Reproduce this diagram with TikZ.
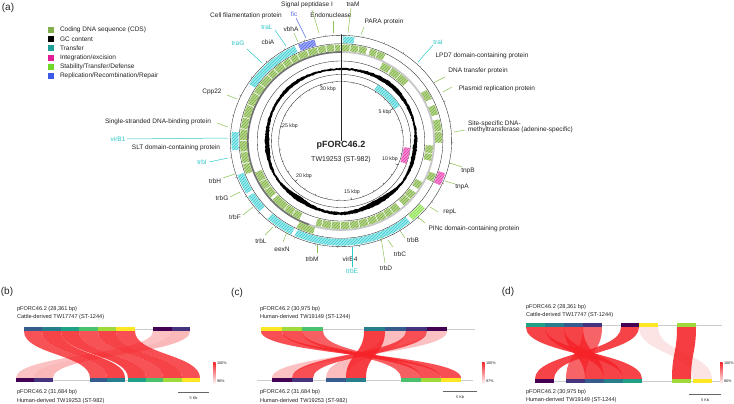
\documentclass[tikz,border=0pt]{standalone}
\usepackage{fontspec}
\setmainfont{Liberation Sans}
\usetikzlibrary{patterns}
\definecolor{txt}{RGB}{35,35,35}
\definecolor{cdsF}{RGB}{182,214,140}
\definecolor{cdsD}{RGB}{125,175,70}
\definecolor{cdsL}{RGB}{130,175,75}
\definecolor{trF}{RGB}{155,234,236}
\definecolor{trD}{RGB}{60,205,210}
\definecolor{trL}{RGB}{30,160,150}
\definecolor{trT}{RGB}{45,200,200}
\definecolor{pkF}{RGB}{245,140,210}
\definecolor{pkD}{RGB}{230,60,170}
\definecolor{magL}{RGB}{225,30,150}
\definecolor{stF}{RGB}{190,242,145}
\definecolor{stD}{RGB}{130,220,80}
\definecolor{stL}{RGB}{110,215,40}
\definecolor{blF}{RGB}{155,165,245}
\definecolor{blD}{RGB}{90,110,235}
\definecolor{blL}{RGB}{60,90,230}
\definecolor{blT}{RGB}{90,110,230}
\definecolor{leadG}{RGB}{140,195,85}
\definecolor{ribc}{RGB}{245,35,40}
\definecolor{vA}{HTML}{440154}
\definecolor{vB}{HTML}{46337E}
\definecolor{vC}{HTML}{365C8D}
\definecolor{vD}{HTML}{277F8E}
\definecolor{vE}{HTML}{1FA187}
\definecolor{vF}{HTML}{4AC16D}
\definecolor{vG}{HTML}{9FDA3A}
\definecolor{vH}{HTML}{FDE725}
\newcommand{\myfs}[1]{\fontsize{#1}{#1}\selectfont}
\newcommand{\arcseg}[5]{\path[#5] ({#1-90}:#4) arc[start angle={#1-90}, end angle={#2-90}, radius=#4] -- ({#2-90}:#3) arc[start angle={#2-90}, end angle={#1-90}, radius=#3] -- cycle;}
\newcommand{\rib}[5]{\fill[ribc, fill opacity=#5] (#1,\yt) .. controls (#1,\ym) and (#3,\ym) .. (#3,\yb) -- (#4,\yb) .. controls (#4,\ym) and (#2,\ym) .. (#2,\yt) -- cycle;}
\newcommand{\gb}[4]{\fill[#4] (#1,#3) rectangle (#2,#3+4.2);}
\tikzset{
  cds/.style={fill=cdsF, postaction={pattern=north east lines, pattern color=cdsD}},
  trn/.style={fill=trF, postaction={pattern=north east lines, pattern color=trD}},
  pnk/.style={fill=pkF, postaction={pattern=north east lines, pattern color=pkD}},
  stb/.style={fill=stF, postaction={pattern=north east lines, pattern color=stD}},
  blu/.style={fill=blF, postaction={pattern=north east lines, pattern color=blD}},
  lbl/.style={font=\myfs{6.5}, text=txt},
  lblc/.style={font=\myfs{6.5}, text=trT},
  leadg/.style={draw=leadG, line width=0.5pt},
  leadc/.style={draw=trT, line width=0.5pt},
  leadb/.style={draw=blT, line width=0.5pt},
  small/.style={font=\myfs{5.6}, text=txt},
  tiny/.style={font=\myfs{3.8}, text=txt},
  kbp/.style={font=\myfs{5.2}, text=txt},
  ring/.style={draw=black!85, line width=0.35pt}
}
\begin{document}
\begin{tikzpicture}[x=1pt,y=-1pt, every node/.style={inner sep=0pt, outer sep=0pt}]
\useasboundingbox (0,0) rectangle (734,404);
\fill[white] (0,0) rectangle (734,404);
\pgfmathsetseed{4711}

% panel labels
\node[font=\myfs{10}, text=txt] (pa) at (8,8) {(a)};
\node[font=\myfs{10}, text=txt] (pb) at (7,292) {(b)};
\node[font=\myfs{10}, text=txt] (pc) at (237,293) {(c)};
\node[font=\myfs{10}, text=txt] (pd) at (508,292) {(d)};

% legend
\foreach \i/\c/\t in {0/cdsL/{Coding DNA sequence (CDS)}, 1/black/{GC content}, 2/trL/{Transfer}, 3/magL/{Integration/excision}, 4/stL/{Stability/Transfer/Defense}, 5/blL/{Replication/Recombination/Repair}}{
  \fill[\c] (48,{30+9.2*\i-3}) rectangle (54,{30+9.2*\i+3});
  \node[lbl, anchor=west] (leg\i) at (60,{30+9.2*\i}) {\t};
}

% ================= circular map =================
\begin{scope}[shift={(341,141)}, x={(1.047pt,0pt)}, y={(0pt,-1pt)}]
  % GC content
  \fill[black, even odd rule]
     plot[domain=0:360, samples=320] ({\x-90}:{72.3+0.9*rnd+2.6*pow(max(0,cos(\x-40)),12)+1.6*pow(max(0,cos(\x-320)),20)+1.2*pow(max(0,cos(\x-180)),40)}) -- cycle
     plot[domain=0:360, samples=320] ({\x-90}:{71.6-0.9*rnd-3.6*pow(max(0,cos(\x-150)),20)-3.2*pow(max(0,cos(\x-215)),30)-2.6*pow(max(0,cos(\x-268)),20)-2.4*pow(max(0,cos(\x-100)),30)}) -- cycle;
  % rings
  \foreach \r in {59.5,66.5,80,97.3,105.7}{
    \draw[ring] (-90:\r) arc[start angle=-90, end angle=270, radius=\r];
  }
  % inner category ring
  \arcseg{32}{58}{60.3}{66.3}{trn}
  \arcseg{96}{110}{60.3}{66.3}{pnk}
  % backbone
  \draw[black!22, line width=1.8pt] (-90:89) arc[start angle=-90, end angle=110, radius=89];
  \draw[black!55, line width=1.8pt] (110:89) arc[start angle=110, end angle=270, radius=89];
  % CDS forward
  \foreach \a/\b in {250/256, 256.6/263, 263.6/270, 270.6/277, 277.6/284, 284.6/292, 292.6/300, 300.6/306, 306.6/313, 313.6/318, 318.6/324, 324.6/329, 329.6/334, 334.6/340, 340.6/346, 346.6/351, 351.6/356, 356.6/359.6, 0.4/5, 5.6/10, 10.6/15, 17/21, 21.6/26, 58/64, 68/74, 77/84, 84.6/91, 110/115, 196/206}{
    \arcseg{\a}{\b}{90}{96.5}{cds}
  }
  % CDS reverse
  \foreach \a/\b in {27/33, 34/40, 40.6/47, 93/98, 98.6/103, 118/123, 126/131, 131.6/137, 140/145, 145.6/150, 150.6/156, 156.6/162, 162.6/168, 168.6/174, 174.6/180, 180.6/186, 186.6/192, 192.6/196, 207/212, 212.6/218, 218.6/228, 230/236, 236.6/242, 242.6/249}{
    \arcseg{\a}{\b}{81}{88}{cds}
  }
  % category ring
  \foreach \a/\b in {1/7, 141/205, 207/222, 228/238, 240/251, 265/275, 303/335}{
    \arcseg{\a}{\b}{98}{104.6}{trn}
  }
  \arcseg{337}{346}{98}{104.6}{blu}
  \arcseg{108}{115}{98}{104.6}{pnk}
  \arcseg{130}{139}{98}{104.6}{stb}
  % ticks
  \foreach \k in {0,...,31}{
    \draw[black!70, line width=0.3pt] ({\k*11.362-90}:105.7) -- ({\k*11.362-90}:107.3);
    \draw[black!80, line width=0.3pt] ({\k*11.362-90}:59.5) -- ({\k*11.362-90}:58.2);
  }
  \foreach \k in {5,10,...,30}{
    \draw[black!80, line width=0.35pt] ({\k*11.362-90}:59.5) -- ({\k*11.362-90}:56.8);
  }
  % zero line
  \draw[black!85, line width=0.25pt] (0,0) -- (-90:105.7);
\end{scope}

% kbp labels
\node[kbp] (k30) at (328,89) {30 kbp};
\node[kbp] (k5) at (385,112.3) {5 kbp};
\node[kbp] (k25) at (290,125.7) {25 kbp};
\node[kbp] (k10) at (390,159) {10 kbp};
\node[kbp] (k20) at (304,176) {20 kbp};
\node[kbp] (k15) at (352,192) {15 kbp};

% centre title
\node[font=\myfs{9}\bfseries, text=txt] (title) at (341,145.7) {pFORC46.2};
\node[font=\myfs{7}, text=txt] (subt) at (341,159.7) {TW19253 (ST-982)};

% map labels
\node[lbl] (Lsig) at (307,4.5) {Signal peptidase I};
\node[lbl] (LtraM) at (353,4.5) {traM};
\node[lbl] (Lcell) at (246,16) {Cell filamentation protein};
\node[font=\myfs{6.5}, text=blT] (Lfic) at (294,14) {fic};
\node[lbl] (Lendo) at (331,15) {Endonuclease};
\node[lbl] (Lpara) at (384,22) {PARA protein};
\node[lblc] (LtraL) at (267,27) {traL};
\node[lbl] (Lvbh) at (291,29) {vbhA};
\node[lblc] (LtraG) at (238,43) {traG};
\node[lbl] (Lcbi) at (268,42) {cbiA};
\node[lbl] (Lcpp) at (212,92) {Cpp22};
\node[lblc] (LtraI) at (438,42) {traI};
\node[lbl] (Llpd) at (482,56) {LPD7 domain-containing protein};
\node[lbl] (Ldna) at (478,71) {DNA transfer protein};
\node[lbl] (Lpla) at (497,89) {Plasmid replication protein};
\node[lbl, anchor=north west, align=left] (Lssm) at (468,120.5) {Site-specific DNA-\\[-0.4pt]methyltransferase (adenine-specific)};
\node[lbl] (LtnpB) at (468,171) {tnpB};
\node[lbl] (LtnpA) at (462,187) {tnpA};
\node[lbl] (Lrep) at (450,212) {repL};
\node[lbl] (Lpin) at (474,229) {PINc domain-containing protein};
\node[lbl] (LtrbB) at (413,240) {trbB};
\node[lbl] (LtrbC) at (400,254) {trbC};
\node[lbl] (LtrbD) at (386,268) {trbD};
\node[lblc] (LtrbE) at (352,271) {trbE};
\node[lbl] (Lvir4) at (350,259) {virB4};
\node[lbl] (LtrbM) at (312,259) {trbM};
\node[lbl] (Leex) at (282,249) {eexN};
\node[lbl] (LtrbL) at (261,241) {trbL};
\node[lbl] (LtrbF) at (235,217) {trbF};
\node[lbl] (LtrbG) at (222,198) {trbG};
\node[lbl] (LtrbH) at (215,181) {trbH};
\node[lbl] (Lssb) at (158,122) {Single-stranded DNA-binding protein};
\node[lblc] (Lvir1) at (118,139) {virB1};
\node[lbl] (Lslt) at (176,148) {SLT domain-containing protein};
\node[lblc] (LtrbI) at (202,162) {trbI};

% leader lines
\foreach \n/\ua/\va/\ub/\vb/\c in {
  a/247/49/262/63/leadc, b/275/30/286/46/leadc, c/294/33/298/42/leadg, d/296/18/306/38/leadb,
  e/312/10/319/33/leadg, f/333/21/333/33/leadg, g/351/8/348/33/leadg, h/364/27/361/35/leadg,
  i/433/45/418/62/leadc, j/445/77/435/82/leadg, k/452/87/443/92/leadg, l/465/130/454/132/leadg,
  m/462/167/450/163/leadg, n/455/184/445/181/leadg, o/438/212/430/207/leadg, p/425/223/418/217/leadg,
  q/405/238/401/232/leadg, r/393/247/388/240/leadg, s/385/263/381/237/leadg, t/352/267/352/247/leadc,
  u/317/253/317/245/leadg, v/283/242/287/232/leadg, w/265/235/273/227/leadg, x/243/215/253/207/leadg,
  y/230/197/240/192/leadg, z/223/178/235/174/leadg, A/209/162/228/158/leadc, B/127/139/228/138/leadc,
  C/217/123/228/127/leadg, D/227/95/237/99/leadg}{
  \coordinate (s\n) at (\ua,\va);
  \coordinate (e\n) at (\ub,\vb);
  \draw[\c] (s\n) -- (e\n);
}

% ================= panel (b) =================
\def\yt{331.2}\def\yb{378}\def\ym{354.6}
\draw[black!20, line width=0.4pt] (24,329) -- (190,329);
\draw[black!20, line width=0.4pt] (16,380) -- (200,380);
\rib{153}{172}{16}{34}{0.28}
\rib{172}{190}{34}{53}{0.32}
\rib{24}{42}{90}{107}{0.78}
\rib{42}{61}{107}{125}{0.85}
\rib{61}{79}{128}{146}{0.85}
\rib{79}{98}{146}{163}{0.78}
\rib{98}{116}{163}{182}{0.85}
\rib{116}{135}{182}{200}{0.8}
\gb{24}{42}{327}{vC}\gb{42}{61}{327}{vD}\gb{61}{79}{327}{vE}\gb{79}{98}{327}{vF}\gb{98}{116}{327}{vG}\gb{116}{135}{327}{vH}
\gb{153}{172}{327}{vA}\gb{172}{190}{327}{vB}
\gb{16}{34}{378}{vA}\gb{34}{53}{378}{vB}\gb{90}{107}{378}{vC}\gb{107}{125}{378}{vD}
\gb{128}{146}{378}{vE}\gb{146}{163}{378}{vF}\gb{163}{182}{378}{vG}\gb{182}{200}{378}{vH}
\node[small, anchor=west] (b1) at (17,309) {pFORC46.2 (28,361 bp)};
\node[small, anchor=west] (b2) at (17,317) {Cattle-derived TW17747 (ST-1244)};
\node[small, anchor=west] (b3) at (17,392) {pFORC46.2 (31,684 bp)};
\node[small, anchor=west] (b4) at (17,401) {Human-derived TW19253 (ST-982)};
\shade[top color=ribc, bottom color=ribc!6] (213,362) rectangle (215.5,383);
\node[tiny, anchor=west] (b5) at (217,363) {100\%};
\node[tiny, anchor=west] (b6) at (217,381.5) {96\%};
\coordinate (bs1) at (178,392); \coordinate (bs2) at (209,392);
\draw[black!60, line width=0.4pt] (bs1) -- (bs2);
\node[tiny] (b7) at (193.5,398.5) {5 Kb};

% ================= panel (c) =================
\def\yt{331.2}\def\yb{378}\def\ym{354.6}
\draw[black!20, line width=0.4pt] (261,329) -- (475,329);
\draw[black!20, line width=0.4pt] (257,380) -- (473,380);
\rib{261}{282}{441}{461}{0.8}
\rib{282}{302}{421}{441}{0.8}
\rib{302}{323}{401}{421}{0.72}
\rib{364}{385}{346}{366}{0.88}
\rib{385}{406}{326}{346}{0.3}
\rib{406}{427}{292}{313}{0.8}
\rib{427}{447}{272}{292}{0.28}
\gb{261}{282}{327}{vH}\gb{282}{302}{327}{vG}\gb{302}{323}{327}{vF}
\gb{364}{385}{327}{vD}\gb{385}{406}{327}{vC}\gb{406}{427}{327}{vB}\gb{427}{447}{327}{vA}
\gb{272}{292}{378}{vA}\gb{292}{313}{378}{vB}\gb{326}{346}{378}{vC}\gb{346}{366}{378}{vD}
\gb{401}{421}{378}{vF}\gb{421}{441}{378}{vG}\gb{441}{461}{378}{vH}
\node[small, anchor=west] (c1) at (260,309) {pFORC46.2 (30,975 bp)};
\node[small, anchor=west] (c2) at (260,317) {Human-derived TW19149 (ST-1244)};
\node[small, anchor=west] (c3) at (260,392) {pFORC46.2 (31,684 bp)};
\node[small, anchor=west] (c4) at (260,401) {Human-derived TW19253 (ST-982)};
\shade[top color=ribc, bottom color=ribc!6] (482,362) rectangle (484.5,383);
\node[tiny, anchor=west] (c5) at (486,363) {100\%};
\node[tiny, anchor=west] (c6) at (486,381.5) {97\%};
\coordinate (cs1) at (443,391); \coordinate (cs2) at (477,391);
\draw[black!60, line width=0.4pt] (cs1) -- (cs2);
\node[tiny] (c7) at (460,397.5) {5 Kb};

% ================= panel (d) =================
\def\yt{327.2}\def\yb{379}\def\ym{353.1}
\draw[black!20, line width=0.4pt] (526,325) -- (722,325);
\draw[black!20, line width=0.4pt] (535,381) -- (722,381);
\rib{639}{658}{693}{712}{0.12}
\rib{526}{545}{623}{642}{0.85}
\rib{545}{564}{604}{623}{0.85}
\rib{564}{583}{585}{604}{0.85}
\rib{583}{602}{566}{585}{0.7}
\rib{621}{639}{535}{554}{0.85}
\rib{677}{696}{672}{691}{0.88}
\gb{526}{545}{323}{vE}\gb{545}{564}{323}{vD}\gb{564}{583}{323}{vC}\gb{583}{602}{323}{vB}
\gb{621}{639}{323}{vA}\gb{639}{658}{323}{vH}\gb{677}{696}{323}{vG}
\gb{535}{554}{379}{vA}\gb{566}{585}{379}{vB}\gb{585}{604}{379}{vC}\gb{604}{623}{379}{vD}\gb{623}{642}{379}{vE}
\gb{672}{691}{379}{vG}\gb{693}{712}{379}{vH}
\node[small, anchor=west] (d1) at (526,307) {pFORC46.2 (28,361 bp)};
\node[small, anchor=west] (d2) at (526,315) {Cattle-derived TW17747 (ST-1244)};
\node[small, anchor=west] (d3) at (526,392) {pFORC46.2 (30,975 bp)};
\node[small, anchor=west] (d4) at (526,400) {Human-derived TW19149 (ST-1244)};
\shade[top color=ribc, bottom color=ribc!6] (720,362) rectangle (722.5,383);
\node[tiny, anchor=west] (d5) at (724,363) {100\%};
\node[tiny, anchor=west] (d6) at (724,381.5) {86\%};
\coordinate (ds1) at (689,394); \coordinate (ds2) at (721,394);
\draw[black!60, line width=0.4pt] (ds1) -- (ds2);
\node[tiny] (d7) at (705,400) {5 Kb};
\end{tikzpicture}
\end{document}
